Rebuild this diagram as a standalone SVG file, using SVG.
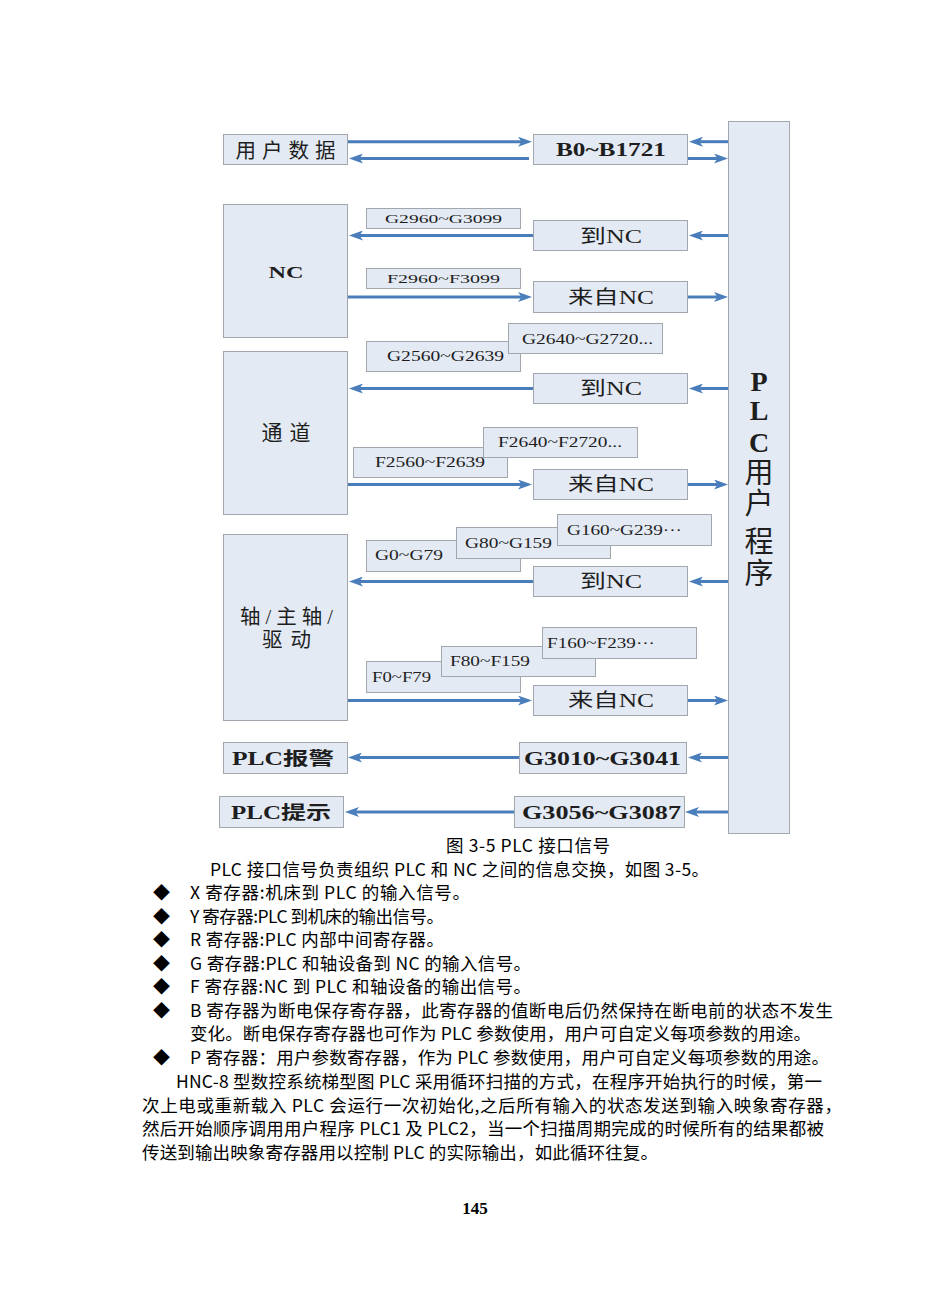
<svg xmlns="http://www.w3.org/2000/svg" width="950" height="1301" viewBox="0 0 950 1301">
<defs>
<style>
.box{fill:#e3eaf4;stroke:#a2a7ad;stroke-width:1}
.lbl{font-family:"Liberation Serif","Noto Sans CJK SC",serif;fill:#1e1e1e;text-anchor:middle}
.lft{font-family:"Liberation Serif",serif;fill:#1e1e1e;text-anchor:start;font-size:15px}
.b{font-weight:bold}
.conn line{stroke:#4a7ebb;stroke-width:3;marker-end:url(#ah)}
.body{font-family:"Noto Sans CJK SC","Liberation Sans",sans-serif;font-size:17.5px;fill:#000}
.dia{font-family:"Noto Sans CJK SC",sans-serif;font-size:17px;fill:#000}
</style>
<marker id="ah" viewBox="0 0 14 10" refX="4" refY="5" markerWidth="14" markerHeight="10" markerUnits="userSpaceOnUse" orient="auto">
<path d="M0,0 L14,5 L0,10 L3.5,5 z" fill="#4a7ebb"/>
</marker>
</defs>
<rect width="950" height="1301" fill="#fff"/>

<g id="plc">
<rect class="box" x="728.5" y="121.5" width="61" height="712"/>
<text class="lbl b" x="759" y="391" font-size="28">P</text>
<text class="lbl b" x="759" y="420" font-size="28">L</text>
<text class="lbl b" x="759" y="451.5" font-size="28">C</text>
<text class="lbl" x="759" y="482.5" font-size="29">用</text>
<text class="lbl" x="759" y="514" font-size="29">户</text>
<text class="lbl" x="759" y="552" font-size="29">程</text>
<text class="lbl" x="759" y="584" font-size="29">序</text>
</g>

<g id="userdata">
<rect class="box" x="223.5" y="134.5" width="124" height="30"/>
<text class="lbl" x="285.5" y="157.5" font-size="20.5" textLength="100" lengthAdjust="spacing">用户数据</text>
</g>
<g id="b0">
<rect class="box" x="533.5" y="134.5" width="154" height="30"/>
<text class="lbl b" x="611" y="156" font-size="18" textLength="110" lengthAdjust="spacingAndGlyphs">B0~B1721</text>
</g>

<g id="nc">
<rect class="box" x="223.5" y="204.5" width="124" height="133"/>
<text class="lbl b" x="286" y="277.5" font-size="17" textLength="35" lengthAdjust="spacingAndGlyphs">NC</text>
</g>
<g id="g2960">
<rect class="box" x="366.5" y="208.5" width="154" height="20"/>
<text class="lbl" x="443.5" y="222.5" font-size="13" textLength="117" lengthAdjust="spacingAndGlyphs">G2960~G3099</text>
</g>
<g id="tonc1">
<rect class="box" x="533.5" y="220.5" width="154" height="30"/>
<text class="lbl" x="611" y="242.5" font-size="19" textLength="62" lengthAdjust="spacingAndGlyphs">到NC</text>
</g>
<g id="f2960">
<rect class="box" x="366.5" y="268.5" width="154" height="20"/>
<text class="lbl" x="443.5" y="282.5" font-size="13" textLength="113" lengthAdjust="spacingAndGlyphs">F2960~F3099</text>
</g>
<g id="fromnc1">
<rect class="box" x="533.5" y="281.5" width="154" height="31"/>
<text class="lbl" x="611" y="303.5" font-size="19" textLength="86" lengthAdjust="spacingAndGlyphs">来自NC</text>
</g>

<g id="channel">
<rect class="box" x="223.5" y="351.5" width="124" height="163"/>
<text class="lbl" x="286" y="439.5" font-size="21" textLength="49" lengthAdjust="spacing">通道</text>
</g>
<g id="g2560">
<rect class="box" x="366.5" y="341.5" width="154" height="30"/>
<text class="lbl" x="445.5" y="361" font-size="15" textLength="117" lengthAdjust="spacingAndGlyphs">G2560~G2639</text>
</g>
<g id="g2640">
<rect class="box" x="508.5" y="323.5" width="154" height="30"/>
<text class="lbl" x="587.5" y="344" font-size="15" textLength="131" lengthAdjust="spacingAndGlyphs">G2640~G2720...</text>
</g>
<g id="tonc2">
<rect class="box" x="533.5" y="373.5" width="154" height="30"/>
<text class="lbl" x="611" y="394.5" font-size="19" textLength="62" lengthAdjust="spacingAndGlyphs">到NC</text>
</g>
<g id="f2560">
<rect class="box" x="353.5" y="447.5" width="154" height="30"/>
<text class="lbl" x="430" y="467" font-size="15" textLength="110" lengthAdjust="spacingAndGlyphs">F2560~F2639</text>
</g>
<g id="f2640">
<rect class="box" x="483.5" y="427.5" width="154" height="30"/>
<text class="lbl" x="560" y="447" font-size="15" textLength="124" lengthAdjust="spacingAndGlyphs">F2640~F2720...</text>
</g>
<g id="fromnc2">
<rect class="box" x="533.5" y="469.5" width="154" height="30"/>
<text class="lbl" x="611" y="490.5" font-size="19" textLength="86" lengthAdjust="spacingAndGlyphs">来自NC</text>
</g>

<g id="axis">
<rect class="box" x="223.5" y="534.5" width="124" height="186"/>
<text class="lbl" x="286.5" y="624" font-size="20.5" textLength="93" lengthAdjust="spacing">轴/主轴/</text>
<text class="lbl" x="286.5" y="646.5" font-size="20.5" textLength="49" lengthAdjust="spacing">驱动</text>
</g>
<g id="g0">
<rect class="box" x="366.5" y="540.5" width="154" height="31"/>
<text class="lft" x="375" y="559.5" textLength="68" lengthAdjust="spacingAndGlyphs">G0~G79</text>
</g>
<g id="g80">
<rect class="box" x="456.5" y="527.5" width="154" height="31"/>
<text class="lft" x="465" y="548" textLength="87" lengthAdjust="spacingAndGlyphs">G80~G159</text>
</g>
<g id="g160">
<rect class="box" x="557.5" y="514.5" width="154" height="31"/>
<text class="lft" x="567" y="535" textLength="115" lengthAdjust="spacingAndGlyphs">G160~G239···</text>
</g>
<g id="tonc3">
<rect class="box" x="533.5" y="566.5" width="154" height="30"/>
<text class="lbl" x="611" y="587.5" font-size="19" textLength="62" lengthAdjust="spacingAndGlyphs">到NC</text>
</g>
<g id="f0">
<rect class="box" x="366.5" y="661.5" width="154" height="31"/>
<text class="lft" x="372" y="682" textLength="59" lengthAdjust="spacingAndGlyphs">F0~F79</text>
</g>
<g id="f80">
<rect class="box" x="441.5" y="646.5" width="154" height="30"/>
<text class="lft" x="450" y="666" textLength="80" lengthAdjust="spacingAndGlyphs">F80~F159</text>
</g>
<g id="f160">
<rect class="box" x="542.5" y="627.5" width="154" height="31"/>
<text class="lft" x="547" y="648" textLength="108" lengthAdjust="spacingAndGlyphs">F160~F239···</text>
</g>
<g id="fromnc3">
<rect class="box" x="533.5" y="685.5" width="154" height="30"/>
<text class="lbl" x="611" y="706.5" font-size="19" textLength="86" lengthAdjust="spacingAndGlyphs">来自NC</text>
</g>

<g id="plcalarm">
<rect class="box" x="223.5" y="742.5" width="124" height="31"/>
<text class="lbl b" x="283" y="764.5" font-size="18" textLength="102" lengthAdjust="spacingAndGlyphs">PLC报警</text>
</g>
<g id="g3010">
<rect class="box" x="519.5" y="742.5" width="167" height="31"/>
<text class="lbl b" x="602.5" y="764.5" font-size="18" textLength="157" lengthAdjust="spacingAndGlyphs">G3010~G3041</text>
</g>
<g id="plchint">
<rect class="box" x="219.5" y="796.5" width="124" height="31"/>
<text class="lbl b" x="281" y="818.5" font-size="18" textLength="100" lengthAdjust="spacingAndGlyphs">PLC提示</text>
</g>
<g id="g3056">
<rect class="box" x="514.5" y="796.5" width="170" height="31"/>
<text class="lbl b" x="601.5" y="818.5" font-size="18" textLength="159" lengthAdjust="spacingAndGlyphs">G3056~G3087</text>
</g>

<g id="connectors" class="conn">
<line x1="348" y1="141.7" x2="522" y2="141.7"/>
<line x1="529" y1="158.5" x2="359" y2="158.5"/>
<line x1="728" y1="141.7" x2="699" y2="141.7"/>
<line x1="688" y1="158.5" x2="718" y2="158.5"/>
<line x1="533" y1="235.5" x2="359" y2="235.5"/>
<line x1="728" y1="235.5" x2="699" y2="235.5"/>
<line x1="348" y1="297" x2="522" y2="297"/>
<line x1="688" y1="297" x2="718" y2="297"/>
<line x1="533" y1="388.5" x2="359" y2="388.5"/>
<line x1="728" y1="388.5" x2="699" y2="388.5"/>
<line x1="348" y1="484.5" x2="522" y2="484.5"/>
<line x1="688" y1="484.5" x2="718" y2="484.5"/>
<line x1="533" y1="581.5" x2="359" y2="581.5"/>
<line x1="728" y1="581.5" x2="699" y2="581.5"/>
<line x1="348" y1="700.5" x2="522" y2="700.5"/>
<line x1="688" y1="700.5" x2="718" y2="700.5"/>
<line x1="519" y1="757.5" x2="358" y2="757.5"/>
<line x1="728" y1="757.5" x2="698" y2="757.5"/>
<line x1="514" y1="812" x2="355" y2="812"/>
<line x1="728" y1="812" x2="695" y2="812"/>
</g>

<g id="caption">
<text class="body" x="446" y="851.5" textLength="164" lengthAdjust="spacing">图 3-5 PLC 接口信号</text>
</g>

<g id="bodytext">
<text class="body" x="210" y="875.5" textLength="499" lengthAdjust="spacing">PLC 接口信号负责组织 PLC 和 NC 之间的信息交换，如图 3-5。</text>
<text class="dia" x="153" y="899">◆</text>
<text class="body" x="190" y="899" textLength="280" lengthAdjust="spacing">X 寄存器:机床到 PLC 的输入信号。</text>
<text class="dia" x="153" y="922.5">◆</text>
<text class="body" x="190" y="922.5" textLength="254" lengthAdjust="spacing">Y 寄存器:PLC 到机床的输出信号。</text>
<text class="dia" x="153" y="946">◆</text>
<text class="body" x="190" y="946" textLength="254" lengthAdjust="spacing">R 寄存器:PLC 内部中间寄存器。</text>
<text class="dia" x="153" y="969.5">◆</text>
<text class="body" x="190" y="969.5" textLength="341" lengthAdjust="spacing">G 寄存器:PLC 和轴设备到 NC 的输入信号。</text>
<text class="dia" x="153" y="993">◆</text>
<text class="body" x="190" y="993" textLength="341" lengthAdjust="spacing">F 寄存器:NC 到 PLC 和轴设备的输出信号。</text>
<text class="dia" x="153" y="1016.5">◆</text>
<text class="body" x="190" y="1016.5" textLength="643" lengthAdjust="spacing">B 寄存器为断电保存寄存器，此寄存器的值断电后仍然保持在断电前的状态不发生</text>
<text class="body" x="190" y="1040" textLength="621" lengthAdjust="spacing">变化。断电保存寄存器也可作为 PLC 参数使用，用户可自定义每项参数的用途。</text>
<text class="dia" x="153" y="1063.5">◆</text>
<text class="body" x="190" y="1063.5" textLength="639" lengthAdjust="spacing">P 寄存器：用户参数寄存器，作为 PLC 参数使用，用户可自定义每项参数的用途。</text>
<text class="body" x="176" y="1087.5" textLength="646" lengthAdjust="spacing">HNC-8 型数控系统梯型图 PLC 采用循环扫描的方式，在程序开始执行的时候，第一</text>
<text class="body" x="142" y="1111.5" textLength="700" lengthAdjust="spacing">次上电或重新载入 PLC 会运行一次初始化,之后所有输入的状态发送到输入映象寄存器，</text>
<text class="body" x="142" y="1135" textLength="682" lengthAdjust="spacing">然后开始顺序调用用户程序 PLC1 及 PLC2，当一个扫描周期完成的时候所有的结果都被</text>
<text class="body" x="142" y="1158.5" textLength="516" lengthAdjust="spacing">传送到输出映象寄存器用以控制 PLC 的实际输出，如此循环往复。</text>
<text x="475" y="1214" font-family="Liberation Serif, serif" font-weight="bold" font-size="17" text-anchor="middle">145</text>
</g>
</svg>
